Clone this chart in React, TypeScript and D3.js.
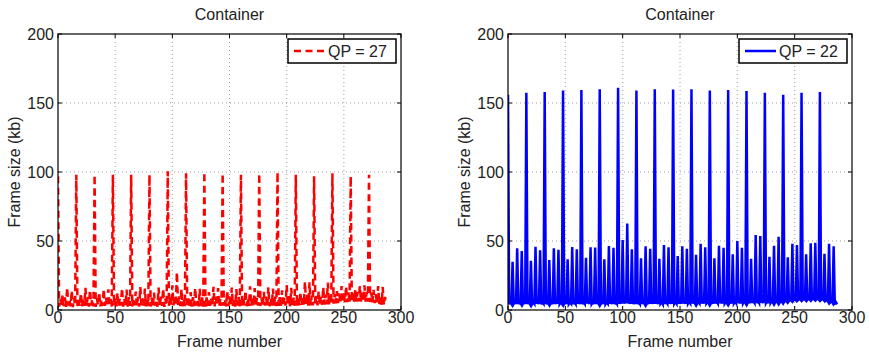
import * as d3 from 'd3'

// frame sizes in kb, one row per 16-frame GOP: [I, b, B, b, P, b, B, b, P, b, B, b, P, b, B, b]
const qp27Gops: number[][] = [
  [97, 2.4, 8.2, 3.1, 10.5, 2.8, 9.1, 2.3, 16.4, 3.2, 7.6, 2.6, 14.1, 2.1, 8.7, 3.4],
  [98, 2.9, 7.3, 2.7, 12.2, 2.4, 8.9, 3.0, 16.1, 2.7, 9.5, 2.5, 14.6, 3.3, 7.9, 2.6],
  [98, 2.2, 8.6, 3.3, 12.8, 2.6, 7.7, 2.9, 15.3, 3.1, 9.2, 2.4, 15.0, 2.8, 8.1, 2.5],
  [98, 3.0, 9.0, 2.6, 12.5, 2.3, 8.4, 3.2, 16.0, 2.5, 7.9, 2.9, 14.8, 2.4, 9.3, 3.1],
  [98, 2.6, 7.8, 3.4, 13.4, 2.9, 9.4, 2.5, 16.7, 3.0, 8.3, 2.7, 15.6, 2.6, 8.8, 2.9],
  [98, 2.5, 8.9, 2.8, 12.6, 3.1, 7.6, 2.4, 16.2, 2.8, 9.7, 3.0, 15.5, 2.3, 8.2, 3.2],
  [100.5, 3.1, 9.6, 3.5, 17.8, 3.4, 10.2, 3.0, 27.5, 3.6, 9.8, 2.9, 15.2, 2.7, 8.6, 2.8],
  [99, 2.7, 8.4, 3.0, 13.0, 2.5, 9.3, 2.8, 16.1, 3.3, 8.0, 2.6, 15.4, 2.9, 9.1, 2.4],
  [100, 2.4, 9.2, 2.9, 12.9, 3.0, 8.1, 2.7, 16.8, 2.6, 9.6, 3.1, 15.8, 2.5, 8.4, 3.0],
  [99, 3.2, 8.0, 2.6, 13.8, 2.8, 9.8, 3.1, 16.3, 2.9, 8.7, 2.5, 15.1, 3.2, 9.4, 2.7],
  [98, 2.6, 9.5, 3.3, 14.1, 2.7, 8.6, 2.9, 17.2, 3.1, 9.9, 2.8, 15.9, 2.6, 8.9, 3.3],
  [99, 2.9, 8.7, 2.5, 13.2, 3.2, 9.7, 2.6, 16.5, 2.7, 8.5, 3.0, 15.6, 3.1, 9.6, 2.8],
  [100, 3.0, 9.3, 3.1, 14.3, 2.6, 8.8, 3.2, 18.0, 3.3, 10.1, 2.7, 16.0, 2.8, 9.0, 3.1],
  [98, 2.8, 9.9, 3.4, 13.1, 3.3, 10.4, 3.6, 20.5, 3.5, 10.9, 3.2, 20.0, 3.4, 10.6, 3.3],
  [97, 3.5, 10.2, 3.3, 13.7, 3.6, 10.0, 3.8, 16.6, 3.9, 11.2, 4.1, 19.8, 4.0, 11.5, 4.4],
  [99, 4.6, 11.7, 4.8, 13.6, 5.0, 12.1, 5.3, 17.4, 5.4, 12.6, 5.6, 17.1, 5.7, 12.8, 5.8],
  [97, 5.9, 13.0, 6.0, 14.4, 6.1, 13.2, 6.2, 17.5, 6.0, 13.4, 6.3, 17.8, 6.1, 13.1, 6.0],
  [98, 5.8, 12.6, 5.5, 14.6, 5.0, 11.4, 4.6, 17.3, 4.2, 10.3, 3.8, 16.7, 3.5, 9.4, 6.5],
]

const qp22Gops: number[][] = [
  [156, 4.2, 5.8, 4.5, 35, 4.6, 6.1, 4.4, 44.7, 4.3, 5.9, 4.7, 42.8, 4.5, 6.0, 4.3],
  [157.5, 4.4, 6.2, 4.6, 35.7, 4.2, 5.7, 4.5, 45.9, 4.6, 6.3, 4.4, 43.2, 4.1, 5.8, 4.6],
  [158, 4.3, 5.9, 4.7, 36.2, 4.5, 6.0, 4.2, 44.7, 4.4, 6.2, 4.6, 43.7, 4.3, 5.7, 4.5],
  [159, 4.6, 6.1, 4.3, 36.7, 4.4, 5.8, 4.7, 45.7, 4.2, 6.0, 4.5, 44.0, 4.6, 6.2, 4.4],
  [159.4, 4.2, 5.8, 4.5, 37.9, 4.7, 6.3, 4.4, 45.4, 4.5, 5.9, 4.3, 45.2, 4.4, 6.1, 4.6],
  [160, 4.5, 6.0, 4.4, 36.7, 4.3, 5.7, 4.6, 46.4, 4.6, 6.2, 4.4, 45.0, 4.2, 5.9, 4.5],
  [161, 4.6, 6.4, 4.7, 50.7, 4.8, 6.6, 4.9, 62.6, 4.7, 6.3, 4.5, 44.0, 4.4, 6.0, 4.3],
  [159, 4.3, 5.9, 4.5, 37.4, 4.4, 6.1, 4.6, 46.1, 4.5, 6.0, 4.4, 44.4, 4.6, 6.2, 4.5],
  [159.9, 4.5, 6.2, 4.4, 37.2, 4.6, 5.8, 4.3, 47.1, 4.4, 6.1, 4.7, 45.4, 4.5, 6.3, 4.6],
  [159.7, 4.6, 6.0, 4.7, 39.1, 4.5, 6.2, 4.6, 46.1, 4.8, 6.4, 4.6, 44.4, 4.7, 6.1, 4.8],
  [160, 4.7, 6.3, 4.8, 40.1, 4.6, 6.1, 4.9, 48.0, 4.7, 6.4, 4.8, 45.4, 4.9, 6.2, 4.7],
  [159, 4.8, 6.2, 4.6, 37.4, 4.7, 6.3, 4.8, 46.6, 4.9, 6.5, 4.7, 45.0, 4.8, 6.3, 4.9],
  [159.4, 4.9, 6.4, 4.8, 40.4, 4.8, 6.2, 4.9, 50.0, 5.0, 6.6, 4.8, 45.0, 4.9, 6.4, 5.0],
  [158.7, 5.0, 6.5, 4.9, 37.2, 5.1, 6.7, 5.2, 54.3, 5.0, 6.6, 5.1, 53.6, 5.2, 6.8, 5.1],
  [157.5, 5.1, 6.6, 5.0, 38.6, 5.2, 6.7, 5.3, 46.6, 5.4, 6.9, 5.6, 53.1, 5.5, 7.0, 5.8],
  [156, 6.0, 7.3, 6.2, 38.2, 6.5, 7.6, 6.8, 48.0, 7.0, 8.1, 7.2, 47.1, 7.3, 8.2, 7.4],
  [157.4, 7.4, 8.3, 7.5, 40.4, 7.3, 8.4, 7.6, 48.3, 7.5, 8.5, 7.7, 48.8, 7.6, 8.4, 7.5],
  [158, 7.3, 8.2, 7.4, 40.8, 6.8, 7.6, 6.2, 48.0, 5.6, 6.5, 5.2, 46.1, 4.9, 5.6, 4.1],
]

const xTicks = [0, 50, 100, 150, 200, 250, 300]
const yTicks = [0, 50, 100, 150, 200]

const FONT = '"Liberation Sans", Arial, Helvetica, sans-serif'
const TOP = 34
const BOTTOM = 310

interface PanelProps {
  id: string
  x0: number
  x1: number
  gops: number[][]
  color: string
  dash?: string
  label: string
}

function Panel({ id, x0, x1, gops, color, dash, label }: PanelProps) {
  const values = gops.flat()
  const x = d3.scaleLinear().domain([0, 300]).range([x0, x1])
  const y = d3.scaleLinear().domain([0, 200]).range([BOTTOM, TOP])
  const line = d3.line<number>()
    .x((_, i) => x(i))
    .y(d => y(d))
  const cx = (x0 + x1) / 2
  const tick = 4
  const legendW = 108
  const lx = x1 - 5 - legendW

  return (
    <g fontFamily={FONT} fill="#222">
      <defs>
        <clipPath id={id}>
          <rect x={x0} y={TOP} width={x1 - x0} height={BOTTOM - TOP} />
        </clipPath>
      </defs>

      {/* grid */}
      {xTicks.slice(1, -1).map(t => (
        <line key={'gx' + t} x1={x(t)} x2={x(t)} y1={TOP} y2={BOTTOM}
          stroke="#888" strokeWidth={0.8} strokeDasharray="1,3" />
      ))}
      {yTicks.slice(1, -1).map(t => (
        <line key={'gy' + t} x1={x0} x2={x1} y1={y(t)} y2={y(t)}
          stroke="#888" strokeWidth={0.8} strokeDasharray="1,3" />
      ))}

      <path d={line(values) ?? ''} fill="none" stroke={color} strokeWidth={2.5}
        strokeDasharray={dash} clipPath={`url(#${id})`} />

      {/* box and inward ticks */}
      <rect x={x0} y={TOP} width={x1 - x0} height={BOTTOM - TOP} fill="none" stroke="#000" strokeWidth={1.2} />
      {xTicks.map(t => (
        <g key={'tx' + t}>
          <line x1={x(t)} x2={x(t)} y1={BOTTOM} y2={BOTTOM - tick} stroke="#000" />
          <line x1={x(t)} x2={x(t)} y1={TOP} y2={TOP + tick} stroke="#000" />
          <text x={x(t)} y={323} textAnchor="middle" fontSize={16}>{t}</text>
        </g>
      ))}
      {yTicks.map(t => (
        <g key={'ty' + t}>
          <line x1={x0} x2={x0 + tick} y1={y(t)} y2={y(t)} stroke="#000" />
          <line x1={x1} x2={x1 - tick} y1={y(t)} y2={y(t)} stroke="#000" />
          <text x={x0 - 4} y={y(t) + 6} textAnchor="end" fontSize={16}>{t}</text>
        </g>
      ))}

      <text x={cx} y={20} textAnchor="middle" fontSize={16}>Container</text>
      <text x={cx} y={347} textAnchor="middle" fontSize={16}>Frame number</text>
      <text transform={`translate(${x0 - 38},${(TOP + BOTTOM) / 2}) rotate(-90)`}
        textAnchor="middle" fontSize={16}>Frame size (kb)</text>

      {/* legend */}
      <rect x={lx} y={39} width={legendW} height={24} fill="#fff" stroke="#000" strokeWidth={1.5} />
      <line x1={lx + 6} x2={lx + 37} y1={51} y2={51} stroke={color} strokeWidth={2.5} strokeDasharray={dash} />
      <text x={lx + 40} y={57} fontSize={16}>{label}</text>
    </g>
  )
}

export default function App() {
  return (
    <svg width={869} height={352} style={{ position: 'absolute', left: 0, top: 0, background: '#fff' }}>
      <Panel id="clipA" x0={58} x1={401} gops={qp27Gops} color="#ff0000" dash="7,4.5" label="QP = 27" />
      <Panel id="clipB" x0={508} x1={852} gops={qp22Gops} color="#0000ff" label="QP = 22" />
    </svg>
  )
}
